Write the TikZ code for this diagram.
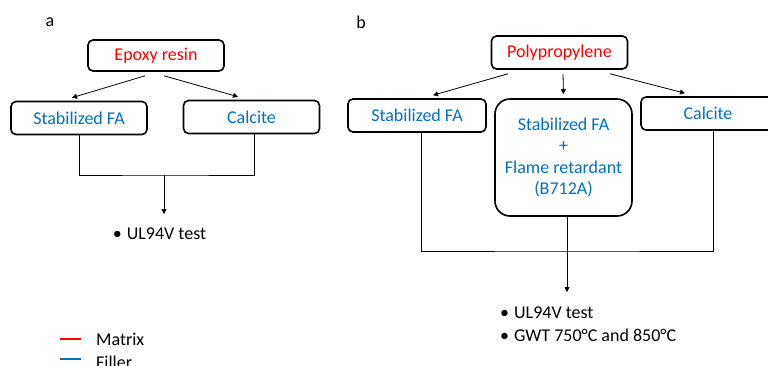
\documentclass[tikz,border=0pt]{standalone}
\usepackage{fontspec}
\setmainfont{Carlito}
\usepackage{xcolor}
\usetikzlibrary{arrows.meta, positioning, calc}
\definecolor{matrixred}{RGB}{255, 0, 0}
\definecolor{fillerblue}{RGB}{0, 112, 192}

\begin{document}
\begin{tikzpicture}[
    x=1pt, y=-1pt,
    font=\fontsize{18}{21.5}\selectfont,
    box/.style={rectangle, rounded corners=5pt, draw, line width=1.6pt,
                minimum width=136pt, minimum height=33pt, align=center, inner sep=2pt},
    bigbox/.style={box, rounded corners=15pt, minimum width=137pt, minimum height=117pt},
    link/.style={draw, line width=0.8pt},
    arr/.style={link, -{Triangle[length=5pt, width=5pt]}},
    legendline/.style={line width=2.5pt}
]
\useasboundingbox (0,0) rectangle (768,365);

% Panel a: epoxy resin
\node (labelA) at (50,22) {a};
\node[box, text=matrixred, minimum height=31pt] (epoxy) at (156,55.5) {Epoxy resin};
\node[box, text=fillerblue] (stabA) at (79,118) {Stabilized FA};
\node[box, text=fillerblue] (calcA) at (251.5,117) {Calcite};
\node[inner sep=0pt] (testA) at (159.5,234) {\textbullet\hspace{5pt}UL94V test};

\draw[arr] ([xshift=-11pt, yshift=-4pt]epoxy.south) -- ([xshift=-7pt, yshift=3pt]stabA.north);
\draw[arr] ([xshift=8pt, yshift=-4pt]epoxy.south) -- ([xshift=-13.5pt, yshift=3pt]calcA.north);
\coordinate (joinA) at (164,175);
\coordinate (tipA) at (164,214);
\draw[link] (stabA.south) |- (joinA) -| ([xshift=2.5pt]calcA.south);
\draw[arr] (joinA) -- (tipA);

% Panel b: polypropylene
\node (labelB) at (361,22) {b};
\node[box, text=matrixred] (poly) at (559.5,52.5) {Polypropylene};
\node[box, text=fillerblue, minimum width=138pt] (stabB) at (417,115.5) {Stabilized FA};
\node[bigbox, text=fillerblue] (mixB) at (563.5,157.5) {Stabilized FA\\+\\Flame retardant\\(B712A)};
\node[box, text=fillerblue, minimum width=134pt] (calcB) at (708,113.5) {Calcite};
\node[inner sep=0pt, align=left, anchor=west] (testB) at (500,324.5)
    {\textbullet\hspace{5pt}UL94V test\\[1.5pt] \textbullet\hspace{5pt}GWT 750°C and 850°C};

\draw[arr] ([xshift=-51.5pt, yshift=-4pt]poly.south) -- ([xshift=16pt, yshift=3pt]stabB.north);
\draw[arr] ([xshift=3.5pt, yshift=-4pt]poly.south) -- ([yshift=4pt]mixB.north);
\draw[arr] ([xshift=50.5pt, yshift=-4pt]poly.south) -- ([xshift=-23pt, yshift=3pt]calcB.north);
\coordinate (joinB) at (567,251);
\coordinate (tipB) at (567,292);
\draw[link] ([xshift=4pt]stabB.south) |- (joinB) -| ([xshift=5pt]calcB.south);
\draw[link] ([xshift=3.5pt]mixB.south) -- (joinB);
\draw[arr] (joinB) -- (tipB);

% Legend
\coordinate (redL) at (60,339);
\coordinate (blueL) at (60,359);
\draw[legendline, matrixred] (redL) -- ++(21,0);
\draw[legendline, fillerblue] (blueL) -- ++(21,0);
\node[anchor=west, inner sep=0pt] (matrixKey) at (96,339) {Matrix};
\node[anchor=west, inner sep=0pt] (fillerKey) at (96,362) {Filler};

\end{tikzpicture}
\end{document}
